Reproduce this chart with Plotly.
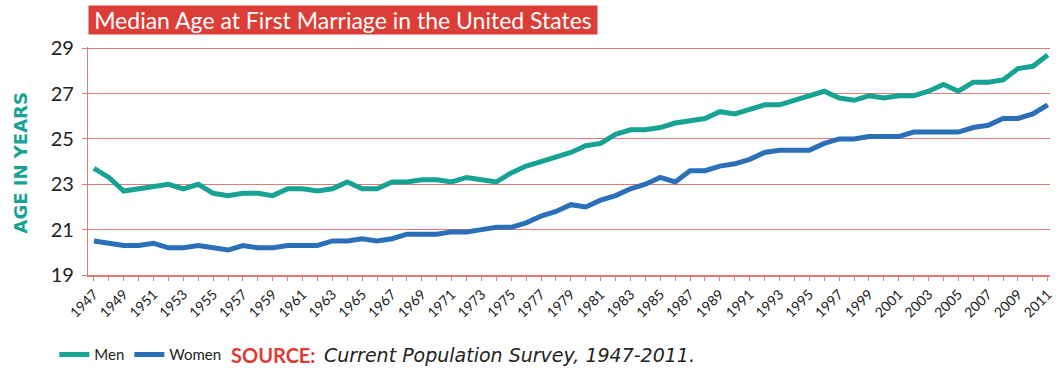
import plotly.graph_objects as go

years = list(range(1947, 2012))
men = [23.7, 23.3, 22.7, 22.8, 22.9, 23.0, 22.8, 23.0, 22.6, 22.5,
       22.6, 22.6, 22.5, 22.8, 22.8, 22.7, 22.8, 23.1, 22.8, 22.8,
       23.1, 23.1, 23.2, 23.2, 23.1, 23.3, 23.2, 23.1, 23.5, 23.8,
       24.0, 24.2, 24.4, 24.7, 24.8, 25.2, 25.4, 25.4, 25.5, 25.7,
       25.8, 25.9, 26.2, 26.1, 26.3, 26.5, 26.5, 26.7, 26.9, 27.1,
       26.8, 26.7, 26.9, 26.8, 26.9, 26.9, 27.1, 27.4, 27.1, 27.5,
       27.5, 27.6, 28.1, 28.2, 28.7]
women = [20.5, 20.4, 20.3, 20.3, 20.4, 20.2, 20.2, 20.3, 20.2, 20.1,
         20.3, 20.2, 20.2, 20.3, 20.3, 20.3, 20.5, 20.5, 20.6, 20.5,
         20.6, 20.8, 20.8, 20.8, 20.9, 20.9, 21.0, 21.1, 21.1, 21.3,
         21.6, 21.8, 22.1, 22.0, 22.3, 22.5, 22.8, 23.0, 23.3, 23.1,
         23.6, 23.6, 23.8, 23.9, 24.1, 24.4, 24.5, 24.5, 24.5, 24.8,
         25.0, 25.0, 25.1, 25.1, 25.1, 25.3, 25.3, 25.3, 25.3, 25.5,
         25.6, 25.9, 25.9, 26.1, 26.5]
x_ticks = list(range(1947, 2012, 2))
y_ticks = [19, 21, 23, 25, 27, 29]

TEAL = "#16a394"
BLUE = "#2a6fb8"
RED = "#dc3d36"
GRID = "#e27b78"

fig = go.Figure()
fig.add_trace(go.Scatter(x=years, y=men, mode="lines", name="Men",
                         line=dict(color=TEAL, width=5)))
fig.add_trace(go.Scatter(x=years, y=women, mode="lines", name="Women",
                         line=dict(color=BLUE, width=5)))

fig.update_layout(
    width=1063, height=368,
    margin=dict(l=88, r=13, t=47, b=93, autoexpand=False),
    paper_bgcolor="white", plot_bgcolor="white",
    font=dict(family="Lato, sans-serif", color="#222"),
    showlegend=True,
    legend=dict(orientation="h", x=-0.035, xanchor="left", y=-0.35, yanchor="middle",
                font=dict(size=15, color="#222"), itemwidth=30, tracegroupgap=0,
                bgcolor="rgba(0,0,0,0)"),
    xaxis=dict(range=[1946.6, 2011.15], tickmode="array", tickvals=x_ticks,
               ticktext=[str(v) for v in x_ticks], tickangle=-45,
               tickfont=dict(size=14, color="#222"), automargin=False,
               showgrid=False, showline=True, linecolor=GRID, linewidth=1.5,
               ticks="outside", ticklen=4, tickcolor=GRID,
               minor=dict(dtick=1, tick0=1947, ticks="outside", ticklen=4, tickcolor=GRID),
               zeroline=False),
    yaxis=dict(range=[19, 29.05], tickvals=y_ticks, tickfont=dict(size=20, color="#222"),
               automargin=False, ticklabelstandoff=4,
               showgrid=True, gridcolor=GRID, gridwidth=1,
               showline=True, linecolor=GRID, linewidth=1.2,
               ticks="outside", ticklen=5, tickcolor=GRID, zeroline=False),
)

fig.add_annotation(xref="paper", yref="paper", x=0.0, y=1.186, xanchor="left", yanchor="top",
                   text="Median Age at First Marriage in the United States",
                   showarrow=False, bgcolor=RED, width=506, height=26, borderpad=1,
                   font=dict(size=23, color="white", family="Lato, sans-serif"))
fig.add_annotation(xref="paper", yref="paper", x=-0.0705, y=0.49, xanchor="center", yanchor="middle",
                   text="<b>AGE IN YEARS</b>", textangle=-90, showarrow=False,
                   font=dict(size=18, color=TEAL, family="DejaVu Sans, sans-serif"))
fig.add_annotation(xref="paper", yref="paper", x=0.1466, y=-0.35, xanchor="left", yanchor="middle",
                   text="<b>SOURCE:</b>", showarrow=False,
                   font=dict(size=20, color=RED, family="Lato, sans-serif"))
fig.add_annotation(xref="paper", yref="paper", x=0.243, y=-0.35, xanchor="left", yanchor="middle",
                   text="<i>Current Population Survey, 1947-2011.</i>", showarrow=False,
                   font=dict(size=19, color="#222", family="DejaVu Sans, sans-serif"))

fig.write_html("out.html", config={"displayModeBar": False},
               post_script="document.body.style.margin='0';document.body.style.overflow='hidden';")
